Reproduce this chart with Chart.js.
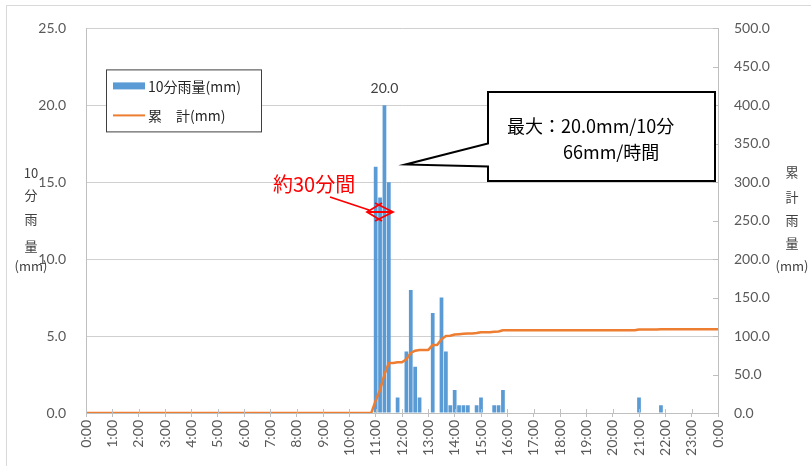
<!DOCTYPE html>
<html lang="ja">
<head>
<meta charset="utf-8">
<script src="https://cdn.jsdelivr.net/npm/chart.js@4.4.1/dist/chart.umd.min.js"></script>
<style>
  html, body { margin: 0; padding: 0; background: #fff; }
  #wrap { position: relative; width: 811px; height: 466px; overflow: hidden; }
  canvas { display: block; }
</style>
</head>
<body>
<div id="wrap"><canvas id="rainChart" width="811" height="466"></canvas></div>
<script>
// 10分間雨量 (mm) : one row per hour, values at :00 :10 :20 :30 :40 :50, last entry is 24:00
const rain10 = [
  0, 0, 0, 0, 0, 0,          // 0時
  0, 0, 0, 0, 0, 0,          // 1時
  0, 0, 0, 0, 0, 0,          // 2時
  0, 0, 0, 0, 0, 0,          // 3時
  0, 0, 0, 0, 0, 0,          // 4時
  0, 0, 0, 0, 0, 0,          // 5時
  0, 0, 0, 0, 0, 0,          // 6時
  0, 0, 0, 0, 0, 0,          // 7時
  0, 0, 0, 0, 0, 0,          // 8時
  0, 0, 0, 0, 0, 0,          // 9時
  0, 0, 0, 0, 0, 0,          // 10時
  16.0, 14.0, 20.0, 15.0, 0, 1.0,   // 11時
  0, 4.0, 8.0, 3.0, 1.0, 0,         // 12時
  0, 6.5, 0, 7.5, 4.0, 0.5,         // 13時
  1.5, 0.5, 0.5, 0.5, 0, 0.5,       // 14時
  1.0, 0, 0, 0.5, 0.5, 1.5,         // 15時
  0, 0, 0, 0, 0, 0,          // 16時
  0, 0, 0, 0, 0, 0,          // 17時
  0, 0, 0, 0, 0, 0,          // 18時
  0, 0, 0, 0, 0, 0,          // 19時
  0, 0, 0, 0, 0, 0,          // 20時
  1.0, 0, 0, 0, 0, 0.5,      // 21時
  0, 0, 0, 0, 0, 0,          // 22時
  0, 0, 0, 0, 0, 0,          // 23時
  0                          // 24:00
];

// 累計雨量 (mm) at the same times
const cumulative = [
  0, 0, 0, 0, 0, 0,          // 0時
  0, 0, 0, 0, 0, 0,          // 1時
  0, 0, 0, 0, 0, 0,          // 2時
  0, 0, 0, 0, 0, 0,          // 3時
  0, 0, 0, 0, 0, 0,          // 4時
  0, 0, 0, 0, 0, 0,          // 5時
  0, 0, 0, 0, 0, 0,          // 6時
  0, 0, 0, 0, 0, 0,          // 7時
  0, 0, 0, 0, 0, 0,          // 8時
  0, 0, 0, 0, 0, 0,          // 9時
  0, 0, 0, 0, 0, 0,          // 10時
  16, 30, 50, 65, 65, 66,                 // 11時
  66, 70, 78, 81, 82, 82,                 // 12時
  82, 88.5, 88.5, 96, 100, 100.5,         // 13時
  102, 102.5, 103, 103.5, 103.5, 104,     // 14時
  105, 105, 105, 105.5, 106, 107.5,       // 15時
  107.5, 107.5, 107.5, 107.5, 107.5, 107.5, // 16時
  107.5, 107.5, 107.5, 107.5, 107.5, 107.5, // 17時
  107.5, 107.5, 107.5, 107.5, 107.5, 107.5, // 18時
  107.5, 107.5, 107.5, 107.5, 107.5, 107.5, // 19時
  107.5, 107.5, 107.5, 107.5, 107.5, 107.5, // 20時
  108.5, 108.5, 108.5, 108.5, 108.5, 109,   // 21時
  109, 109, 109, 109, 109, 109,             // 22時
  109, 109, 109, 109, 109, 109,             // 23時
  109                                       // 24:00
];

// hourly tick labels along the time axis
const hourLabels = [
  '0:00', '1:00', '2:00', '3:00', '4:00', '5:00', '6:00', '7:00', '8:00',
  '9:00', '10:00', '11:00', '12:00', '13:00', '14:00', '15:00', '16:00',
  '17:00', '18:00', '19:00', '20:00', '21:00', '22:00', '23:00', '0:00'
];

// time of each 10-minute step, "0:00" … "24:00"
const times = rain10.map((_, i) => `${Math.floor(i / 6)}:${i % 6}0`);

const seriesNames = ['10分雨量(mm)', '累　計(mm)'];
const leftTitle = ['10', '分', '雨', '量', '(mm)'];
const rightTitle = ['累', '計', '雨', '量', '(mm)'];
const calloutLines = ['最大：20.0mm/10分', '66mm/時間'];
const durationNote = '約30分間';

const BAR_BLUE = '#5B9BD5';
const LINE_ORANGE = '#ED7D31';
const AXIS_GRAY = '#bfbfbf';
const TICK_TEXT = '#595959';
const FONT_NUM = "Lato, 'Noto Sans CJK JP', sans-serif";
const FONT_JP = "'Noto Sans CJK JP', Lato, sans-serif";

// light frame around the whole chart
const framePlugin = {
  id: 'frame',
  beforeDraw(chart) {
    const c = chart.ctx;
    c.save();
    c.fillStyle = '#fff';
    c.fillRect(0, 0, chart.width, chart.height);
    c.strokeStyle = '#d9d9d9';
    c.lineWidth = 1;
    c.strokeRect(6.5, 5.5, chart.width + 20, chart.height + 20);
    c.restore();
  }
};

// tick marks that sit inside the plot area
const innerTicksPlugin = {
  id: 'innerTicks',
  afterDatasetsDraw(chart) {
    const c = chart.ctx;
    const { x, y1 } = chart.scales;
    const area = chart.chartArea;
    c.save();
    c.strokeStyle = AXIS_GRAY;
    c.lineWidth = 1;
    c.beginPath();
    y1.ticks.forEach(t => {
      const py = Math.round(y1.getPixelForValue(t.value)) + 0.5;
      c.moveTo(area.right - 5, py);
      c.lineTo(area.right, py);
    });
    for (let i = 0; i < times.length; i += 6) {
      const px = Math.round(x.getPixelForValue(i)) + 0.5;
      c.moveTo(px, area.bottom - 4);
      c.lineTo(px, area.bottom);
    }
    c.stroke();
    c.restore();
  }
};

// value label, legend, callout, annotation and axis titles
const overlayPlugin = {
  id: 'overlay',
  afterDraw(chart) {
    const c = chart.ctx;
    const { x, y } = chart.scales;
    const area = chart.chartArea;
    c.save();

    // label over the largest 10-minute value
    let iMax = 0;
    rain10.forEach((v, i) => { if (v > rain10[iMax]) iMax = i; });
    c.font = `14px ${FONT_NUM}`;
    c.fillStyle = '#404040';
    c.textAlign = 'center';
    c.textBaseline = 'middle';
    c.fillText(rain10[iMax].toFixed(1), x.getPixelForValue(iMax), y.getPixelForValue(rain10[iMax]) - 17);

    // legend
    const lx = area.left + 20, ly = area.top + 41;
    c.fillStyle = '#fff';
    c.fillRect(lx + 0.5, ly + 0.5, 155, 62);
    c.strokeStyle = '#404040';
    c.lineWidth = 1;
    c.strokeRect(lx + 0.5, ly + 0.5, 155, 62);
    c.fillStyle = BAR_BLUE;
    c.fillRect(lx + 7, ly + 13, 32, 7);
    c.strokeStyle = LINE_ORANGE;
    c.lineWidth = 2;
    c.beginPath();
    c.moveTo(lx + 7, ly + 46);
    c.lineTo(lx + 39, ly + 46);
    c.stroke();
    c.font = `14px ${FONT_JP}`;
    c.fillStyle = '#262626';
    c.textAlign = 'left';
    c.fillText(seriesNames[0], lx + 42, ly + 17);
    c.fillText(seriesNames[1], lx + 42, ly + 46);

    // callout box with pointer
    const bx0 = 488, bx1 = 715, by0 = 92, by1 = 181;
    const tipX = 405.5, tipY = 164.5;
    c.beginPath();
    c.moveTo(bx0, by0);
    c.lineTo(bx1, by0);
    c.lineTo(bx1, by1);
    c.lineTo(bx0, by1);
    c.lineTo(bx0, 166.5);
    c.lineTo(tipX, tipY);
    c.lineTo(bx0, 143.5);
    c.closePath();
    c.fillStyle = '#fff';
    c.fill();
    c.strokeStyle = '#000';
    c.lineWidth = 2;
    c.lineJoin = 'miter';
    c.stroke();
    c.font = `18px ${FONT_JP}`;
    c.fillStyle = '#000';
    c.textAlign = 'left';
    c.textBaseline = 'middle';
    c.fillText(calloutLines[0], 507, 126);
    c.fillText(calloutLines[1], 563, 152);

    // red duration annotation
    c.strokeStyle = '#ff0000';
    c.fillStyle = '#ff0000';
    c.lineWidth = 1.8;
    c.font = `20px ${FONT_JP}`;
    c.fillText(durationNote, 273, 184);
    c.beginPath();
    c.moveTo(330, 197);
    c.lineTo(369, 210);
    c.moveTo(367, 212);
    c.lineTo(393, 212);
    c.moveTo(382, 203);
    c.lineTo(367, 212);
    c.lineTo(382, 221);
    c.moveTo(375, 203);
    c.lineTo(393, 212);
    c.lineTo(375, 221);
    c.stroke();

    // axis titles, stacked vertically
    c.font = `13px ${FONT_JP}`;
    c.fillStyle = '#404040';
    c.textAlign = 'center';
    const leftYs = [173, 195, 219, 246, 266];
    leftTitle.forEach((t, i) => c.fillText(t, 31, leftYs[i]));
    const rightYs = [172, 197, 220, 243, 266];
    rightTitle.forEach((t, i) => c.fillText(t, 792, rightYs[i]));

    c.restore();
  }
};

new Chart(document.getElementById('rainChart'), {
  type: 'bar',
  data: {
    labels: times,
    datasets: [
      {
        type: 'line',
        label: seriesNames[1],
        data: cumulative,
        yAxisID: 'y1',
        borderColor: LINE_ORANGE,
        backgroundColor: LINE_ORANGE,
        borderWidth: 2.5,
        pointRadius: 0,
        tension: 0,
        borderJoinStyle: 'round',
        order: 0
      },
      {
        type: 'bar',
        label: seriesNames[0],
        data: rain10,
        yAxisID: 'y',
        backgroundColor: BAR_BLUE,
        borderWidth: 0,
        barPercentage: 0.85,
        categoryPercentage: 1,
        order: 1
      }
    ]
  },
  options: {
    responsive: false,
    animation: false,
    devicePixelRatio: 1,
    layout: { padding: { top: 28, left: 0, right: 0, bottom: 0 } },
    plugins: {
      legend: { display: false },
      tooltip: { enabled: false }
    },
    scales: {
      x: {
        type: 'category',
        offset: false,
        grid: { offset: false, drawOnChartArea: false, tickLength: 4, color: AXIS_GRAY },
        border: { color: AXIS_GRAY },
        ticks: {
          autoSkip: false,
          minRotation: 90,
          maxRotation: 90,
          padding: 3,
          color: TICK_TEXT,
          font: { family: FONT_NUM, size: 14 },
          callback: (v, i) => (i % 6 === 0 ? hourLabels[i / 6] : null)
        },
        afterFit: s => { s.height = 53; }
      },
      y: {
        position: 'left',
        min: 0,
        max: 25,
        grid: { color: '#d0d0d0', drawTicks: false },
        border: { display: true, color: AXIS_GRAY },
        ticks: {
          stepSize: 5,
          padding: 20,
          color: TICK_TEXT,
          font: { family: FONT_NUM, size: 14 },
          callback: v => v.toFixed(1)
        },
        afterFit: s => { s.width = 86; }
      },
      y1: {
        position: 'right',
        min: 0,
        max: 500,
        grid: { drawOnChartArea: false, drawTicks: false },
        border: { display: true, color: AXIS_GRAY },
        ticks: {
          stepSize: 50,
          padding: 16,
          color: TICK_TEXT,
          font: { family: FONT_NUM, size: 14 },
          callback: v => v.toFixed(1)
        },
        afterFit: s => { s.width = 93; }
      }
    }
  },
  plugins: [framePlugin, innerTicksPlugin, overlayPlugin]
});
</script>
</body>
</html>
